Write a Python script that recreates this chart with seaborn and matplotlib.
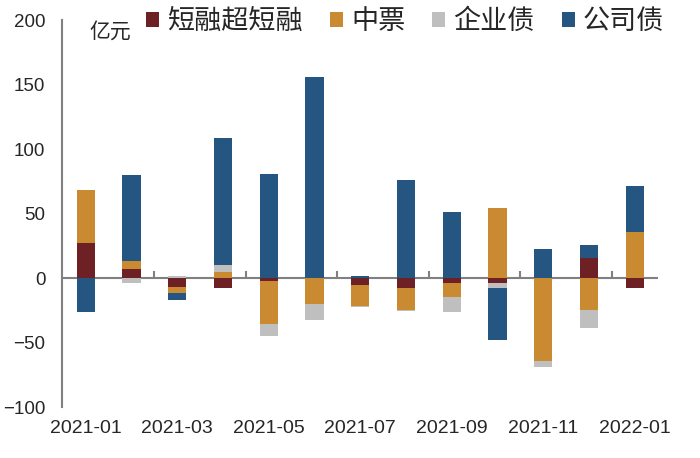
import numpy as np
import pandas as pd
import matplotlib
matplotlib.use("Agg")
import matplotlib.pyplot as plt
import seaborn as sb

# 数据（亿元）
meses = ["2021-01", "2021-02", "2021-03", "2021-04", "2021-05", "2021-06", "2021-07",
         "2021-08", "2021-09", "2021-10", "2021-11", "2021-12", "2022-01"]
duanrong = [27, 7, -6.5, -7.3, -2, 0, -5.5, -7.3, -3.9, -3.9, 0, 16, -7.3]
zhongpiao = [41, 6.6, -5, 5, -33.5, -20, -16, -17.3, -11, 54, -64, -24.6, 35.4]
qiyezhai = [0, -4, 2, 5, -9.5, -12.5, -1, -1, -11, -3.4, -4.6, -13.7, 0]
gongsizhai = [-26, 66, -5.5, 99, 81, 156, 2, 76, 51, -40.5, 22.5, 9.8, 36]

nomes = ["短融超短融", "中票", "企业债", "公司债"]
cores = ["#6E2125", "#C98A32", "#BFBFBF", "#245681"]

sb.set_style("white")
plt.rcParams["font.family"] = ["Liberation Sans", "Noto Sans CJK SC"]
plt.rcParams["axes.unicode_minus"] = True

fig = plt.figure(figsize=(7, 4.58), dpi=100)
ax = fig.add_axes([0.0886, 0.111, 0.851, 0.845])

series = [duanrong, zhongpiao, qiyezhai, gongsizhai]
pos_base = np.zeros(len(meses))
neg_base = np.zeros(len(meses))
for vals, nome, cor in zip(series, nomes, cores):
    v = np.array(vals, dtype=float)
    base = np.where(v >= 0, pos_base, neg_base)
    df = pd.DataFrame({"mes": meses, "valor": v})
    sb.barplot(data=df, x="mes", y="valor", color=cor, bottom=base,
               width=0.4, errorbar=None, ax=ax, label=nome,
               saturation=1, linewidth=0, zorder=3)
    pos_base += np.where(v > 0, v, 0)
    neg_base += np.where(v < 0, v, 0)

ax.set_xlim(-0.52, 12.5)
ax.set_ylim(-100, 200)
ax.set_xlabel("")
ax.set_ylabel("")

# eixo y
ax.set_yticks(np.arange(-100, 201, 50))
ax.tick_params(axis="y", direction="in", length=5, width=1.5, color="#808080",
               labelsize=13.5, pad=12)
for s in ["top", "right", "bottom"]:
    ax.spines[s].set_visible(False)
ax.spines["left"].set_color("#808080")
ax.spines["left"].set_linewidth(1.5)

# rótulos do eixo x embaixo
ax.set_xticks(range(0, len(meses), 2))
ax.set_xticklabels(meses[::2])
ax.tick_params(axis="x", length=0, labelsize=14, pad=9)

# linha do zero com marcas entre os meses
ax.axhline(0, color="#808080", lw=1.5, zorder=2)
sec = ax.secondary_xaxis(1 / 3)
sec.set_xticks(np.arange(1.5, 12, 2))
sec.set_xticklabels([])
sec.tick_params(direction="in", length=5, width=1.5, color="#808080")
for s in sec.spines.values():
    s.set_visible(False)

fig.text(89 / 700, 1 - 32 / 458, "亿元", fontsize=15, va="center", ha="left")

ax.legend(loc="center left", bbox_to_anchor=(146 / 700, 1 - 22 / 458),
          bbox_transform=fig.transFigure, ncol=4, frameon=False, fontsize=19.5,
          handlelength=0.48, handleheight=0.48, handletextpad=0.3,
          columnspacing=1.0, borderpad=0, borderaxespad=0)

fig.savefig("out.png", dpi=100)
